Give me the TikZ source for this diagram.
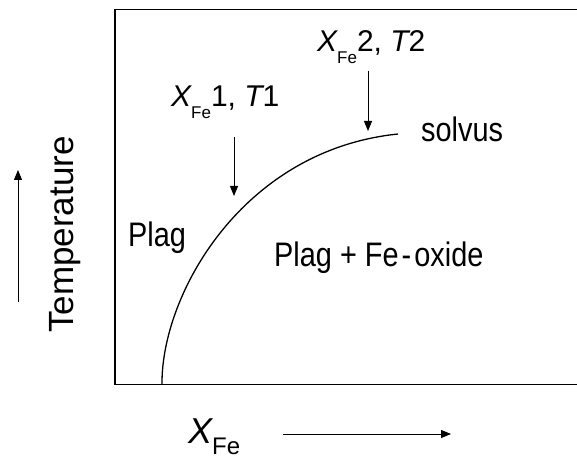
\documentclass[tikz,border=0pt]{standalone}
\usepackage{fontspec}
\setmainfont{Liberation Sans}[FakeStretch=0.85]
\newfontfamily\tfont{Liberation Sans}
\usetikzlibrary{arrows.meta}
\begin{document}
\begin{tikzpicture}[x=1pt,y=-1pt,
  frame/.style={line width=1.6pt},
  curve/.style={line width=1.3pt},
  pointer/.style={line width=0.9pt,-{Triangle[length=10pt,width=8pt]}},
  lbl/.style={inner sep=0pt,anchor=base west,font=\fontsize{34}{34}\selectfont},
  plbl/.style={inner sep=0pt,anchor=base west,font=\tfont\fontsize{30}{30}\selectfont},
]
\useasboundingbox (0,0) rectangle (577,462);
% frame
\coordinate (tr) at (578,9.5);
\coordinate (tl) at (115,9.5);
\coordinate (bl) at (115,384.5);
\coordinate (br) at (578,384.5);
\draw[frame] (tr) -- (tl) -- (bl) -- (br);
% solvus curve
\coordinate (c0) at (162,384.5);
\coordinate (c1) at (398,134);
\draw[curve] (c0) .. controls (161,295) and (242,150) .. (c1);
% labels
\node[lbl] (plag) at (128,246.7) {Plag};
\node[lbl] (mix) at (274,266) {Plag + Fe\kern3pt-\kern3pt oxide};
\node[lbl] (solv) at (421,141.7) {solvus};
\node[plbl] (p1) at (171,106.7) {\itshape X\upshape\raisebox{-12pt}{\fontsize{17}{17}\selectfont Fe}1, \itshape T\upshape 1};
\node[plbl] (p2) at (317,52) {\itshape X\upshape\raisebox{-12pt}{\fontsize{17}{17}\selectfont Fe}2, \itshape T\upshape 2};
\node[plbl,rotate=90,font=\tfont\fontsize{35}{35}\selectfont] (temp) at (73.3,333) {Temperature};
\node[plbl,font=\tfont\fontsize{36}{36}\selectfont] (xfe) at (188,443) {\itshape X\upshape\raisebox{-11pt}{\fontsize{24}{24}\selectfont Fe}};
% arrows
\coordinate (a1s) at (234,137);
\coordinate (a1e) at (234,196);
\coordinate (a2s) at (368,71);
\coordinate (a2e) at (368,131);
\draw[pointer] (a1s) -- (a1e);
\draw[pointer] (a2s) -- (a2e);
\coordinate (vs) at (18,302);
\coordinate (ve) at (18,170);
\draw[pointer] (vs) -- (ve);
\coordinate (hs) at (283,434);
\coordinate (he) at (451,434);
\draw[pointer] (hs) -- (he);
\end{tikzpicture}
\end{document}
